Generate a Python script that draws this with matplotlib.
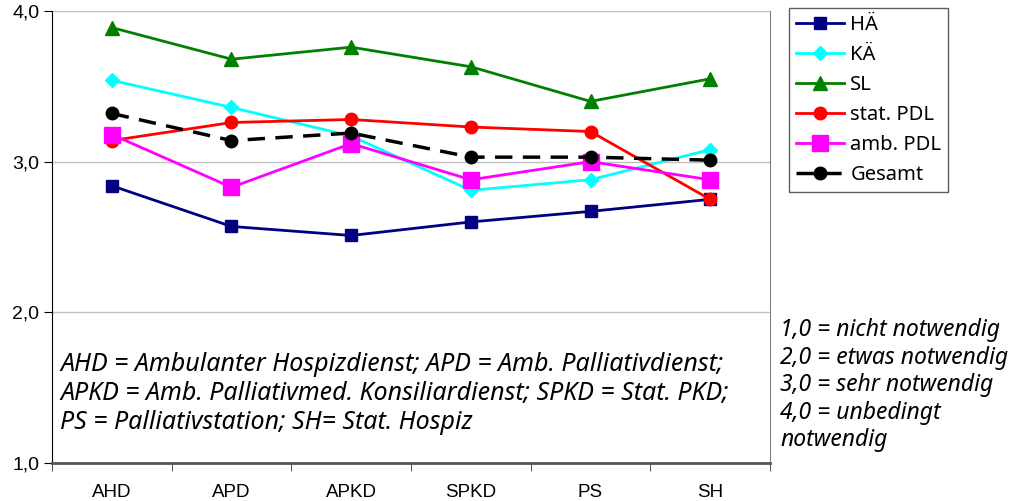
import numpy as np
import matplotlib.pyplot as plt

kategorien = ['AHD', 'APD', 'APKD', 'SPKD', 'PS', 'SH']

ha = [2.84, 2.57, 2.51, 2.60, 2.67, 2.75]
ka = [3.54, 3.36, 3.17, 2.81, 2.88, 3.08]
sl = [3.89, 3.68, 3.76, 3.63, 3.40, 3.55]
stat_pdl = [3.14, 3.26, 3.28, 3.23, 3.20, 2.75]
amb_pdl = [3.18, 2.83, 3.12, 2.88, 3.00, 2.88]
gesamt = [3.32, 3.14, 3.19, 3.03, 3.03, 3.01]

legende_fn = 'Noto Sans'

fig = plt.figure(figsize=(10.12, 5.01), dpi=100)
ax = fig.add_axes([52 / 1012, 1 - 463 / 501, 718 / 1012, 452 / 501])

x = np.arange(len(kategorien))
ax.plot(x, ha, color='#000080', lw=2, marker='s', ms=8, label='HÄ', zorder=3)
ax.plot(x, ka, color='#00ffff', lw=2, marker='D', ms=7, label='KÄ', zorder=3)
ax.plot(x, sl, color='#008000', lw=2, marker='^', ms=10, label='SL', zorder=3)
ax.plot(x, stat_pdl, color='#ff0000', lw=2, marker='o', ms=9, label='stat. PDL', zorder=3)
ax.plot(x, amb_pdl, color='#ff00ff', lw=2, marker='s', ms=12, label='amb. PDL', zorder=3)
ax.plot(x, gesamt, color='black', lw=2.5, ls=(0, (5, 3)), marker='o', ms=9,
        label='Gesamt', zorder=4)

ax.set_xlim(-0.5, len(kategorien) - 0.5)
ax.set_ylim(1.0, 4.0)
ax.set_yticks([1.0, 2.0, 3.0, 4.0])
ax.set_yticklabels(['1,0', '2,0', '3,0', '4,0'], fontsize=14, family='Liberation Sans')
ax.set_xticks(x)
ax.set_xticklabels(kategorien, fontsize=13.5, family='Liberation Sans')
ax.set_xticks(np.arange(len(kategorien) + 1) - 0.5, minor=True)
ax.tick_params(axis='x', which='major', length=0, pad=15)
ax.tick_params(axis='x', which='minor', length=6, color='#333333')
ax.tick_params(axis='y', length=6, direction='out', pad=3)
ax.yaxis.grid(True, color='#c0c0c0', lw=1)
ax.set_axisbelow(True)
ax.spines['top'].set_visible(False)
ax.spines['right'].set_color('#808080')
ax.spines['left'].set_color('black')
ax.spines['bottom'].set_color('#555555')
ax.spines['bottom'].set_linewidth(2)

leg = fig.legend(loc='upper left', bbox_to_anchor=(789 / 1012, 1 - 8 / 501),
                 prop={'family': legende_fn, 'size': 14.5}, frameon=True,
                 fancybox=False, edgecolor='#333333', handlelength=2.4,
                 labelspacing=0.5, borderpad=0.35, handletextpad=0.3,
                 borderaxespad=0)
leg.get_frame().set_linewidth(1)

fig.text(60 / 1012, 1 - 352 / 501,
         'AHD = Ambulanter Hospizdienst; APD = Amb. Palliativdienst;\n'
         'APKD = Amb. Palliativmed. Konsiliardienst; SPKD = Stat. PKD;\n'
         'PS = Palliativstation; SH= Stat. Hospiz',
         fontsize=18, style='italic', family=legende_fn,
         va='top', ha='left', linespacing=1.22)

fig.text(780 / 1012, 1 - 318 / 501,
         '1,0 = nicht notwendig\n2,0 = etwas notwendig\n3,0 = sehr notwendig\n'
         '4,0 = unbedingt\nnotwendig',
         fontsize=16.5, style='italic', family=legende_fn, va='top', ha='left',
         linespacing=1.2)

fig.savefig('out.png', dpi=100)
